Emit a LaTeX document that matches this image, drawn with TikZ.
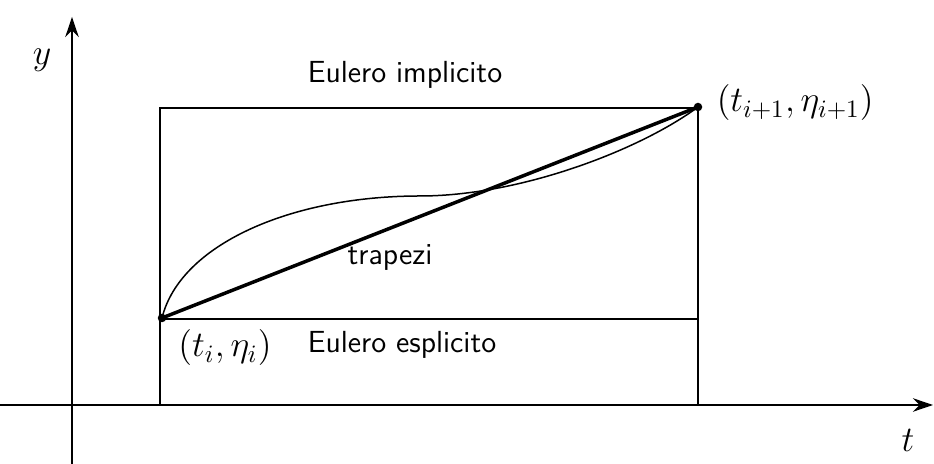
\documentclass[tikz,border=0pt]{standalone}
\usepackage{amsmath,amssymb}
\usetikzlibrary{arrows.meta}

\tikzset{
  txt/.style={font=\sffamily\fontsize{12.2}{14}\selectfont, inner sep=0pt},
  mth/.style={font=\fontsize{14.5}{17}\selectfont, inner sep=0pt},
  punto/.style={circle, fill, inner sep=0pt, minimum size=3.4pt}
}

\begin{document}
\begin{tikzpicture}[x=0.4pt, y=-0.4pt, line width=0.6pt,
            >={Stealth[length=8pt, width=5.4pt]}]
            \useasboundingbox (0, 0) rectangle (934, 464);
            % assi
            \coordinate (tstart) at (0, 405);
            \coordinate (tend) at (933, 405);
            \coordinate (ystart) at (72, 464);
            \coordinate (yend) at (72, 17);
            \draw [->] (tstart) -- (tend);
            \draw [->] (ystart) -- (yend);
            \node [mth] (tlab) at (908, 440) {$t$};
            \node [mth] (ylab) at (42, 60) {$y$};
            % rettangolo
            \coordinate (bl) at (160, 405);
            \coordinate (tl) at (160, 108);
            \coordinate (tr) at (698, 108);
            \coordinate (br) at (698, 405);
            \coordinate (ml) at (160, 319);
            \coordinate (mr) at (698, 319);
            \draw [line width=0.8pt] (bl) -- (tl) -- (tr) -- (br);
            \draw [line width=0.8pt] (ml) -- (mr);
            % punti
            \node [punto] (Pi) at (162, 318) {};
            \node [punto] (Pf) at (698, 107) {};
            \coordinate (flat) at (420, 196);
            \draw (Pi.center) .. controls (180, 245) and (290, 196) .. (flat)
                .. controls (520, 196) and (640, 150) .. (Pf.center);
            \draw [line width=1.4pt] (Pi.center) -- (Pf.center);
            % etichette
            \node [txt] (impl) at (405, 75) {Eulero implicito};
            \node [txt] (espl) at (402, 345) {Eulero esplicito};
            \node [txt] (trap) at (390, 257) {trapezi};
            \node [mth] (labi) at (225, 348) {$(t_i, \eta_i)$};
            \node [mth, anchor=west] (labf) at (716, 103) {$(t_{i+1}, \eta_{i+1})$};
        \end{tikzpicture}
\end{document}
